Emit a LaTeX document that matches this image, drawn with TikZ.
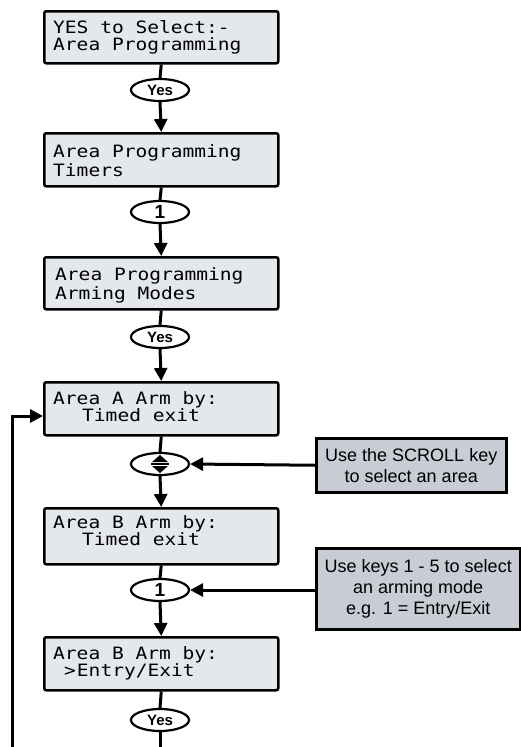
\documentclass[tikz,border=0pt]{standalone}
\usepackage{fontspec}
\setmainfont{Liberation Sans}
\newfontfamily\lcdfont[FakeStretch=1.15]{DejaVu Sans Mono}
\usetikzlibrary{arrows.meta,shapes.geometric}
\definecolor{lcdfill}{RGB}{228,231,236}
\definecolor{notefill}{RGB}{200,204,212}
\begin{document}
\begin{tikzpicture}[x=1pt,y=-1pt,
  lcd/.style={draw=black,line width=2.5pt,fill=lcdfill,rounded corners=2pt,minimum width=234pt,minimum height=53pt,inner sep=0pt,anchor=north west},
  lcdtext/.style={anchor=base west,inner sep=0pt,font=\lcdfont\fontsize{17}{17}\selectfont},
  keynode/.style={draw=black,ellipse,line width=2.2pt,fill=white,minimum width=58pt,minimum height=22pt,inner sep=0pt,font=\bfseries\fontsize{15}{15}\selectfont},
  note/.style={draw=black,line width=2.5pt,fill=notefill,align=center,inner sep=0pt,anchor=north west,font=\fontsize{18}{21}\selectfont},
  conn/.style={line width=3pt},
  arr/.style={conn,-{Triangle[length=13pt,width=13pt]}}]
\useasboundingbox (0,0) rectangle (521,747);

% LCD boxes
\node[lcd,minimum height=52pt] (b1) at (43,10) {};
\node[lcd] (b2) at (43,132) {};
\node[lcd,minimum height=52pt] (b3) at (43,256) {};
\node[lcd] (b4) at (43,381) {};
\node[lcd,minimum height=56pt] (b5) at (43,507) {};
\node[lcd] (b6) at (43,636) {};

% LCD texts
\node[lcdtext] (t1a) at (53,33) {YES to Select:-};
\node[lcdtext] (t1b) at (53,50) {Area Programming};
\node[lcdtext] (t2a) at (53,157) {Area Programming};
\node[lcdtext] (t2b) at (53,176) {Timers};
\node[lcdtext] (t3a) at (55,280) {Area Programming};
\node[lcdtext] (t3b) at (55,299) {Arming Modes};
\node[lcdtext] (t4a) at (53,404) {Area A Arm by:};
\node[lcdtext] (t4b) at (82,421) {Timed exit};
\node[lcdtext] (t5a) at (53,528) {Area B Arm by:};
\node[lcdtext] (t5b) at (82,545) {Timed exit};
\node[lcdtext] (t6a) at (53,659) {Area B Arm by:};
\node[lcdtext] (t6b) at (64,676) {>\kern1pt Entry/Exit};

% key ellipses
\node[keynode] (y1) at (160,90) {Yes};
\node[keynode,font=\bfseries\fontsize{19}{19}\selectfont] (k2) at (160,212) {1};
\node[keynode] (y3) at (160,337) {Yes};
\node[keynode] (sc) at (160,464) {};
\node[keynode,font=\bfseries\fontsize{19}{19}\selectfont] (k5) at (160,590) {1};
\node[keynode] (y6) at (160,720) {Yes};

% scroll symbol
\begin{scope}[shift={(sc.center)}]
  \fill (-8,-2) -- (8,-2) -- (0,-9) -- cycle;
  \fill (-8,2) -- (8,2) -- (0,9) -- cycle;
  \draw[line width=1.2pt] (-9,0) -- (9,0);
\end{scope}

% notes
\node[note,minimum width=190pt,minimum height=54pt] (n1) at (315,437) {Use the SCROLL key\\to select an area};
\node[note,minimum width=204pt,minimum height=81pt] (n2) at (315,547) {Use keys 1 - 5 to select\\an arming mode\\e.g. 1 = Entry/Exit};

% main flow
\draw[conn] (b1.south) -- (y1.north);
\draw[arr] (y1.south) -- (b2.north);
\draw[conn] (b2.south) -- (k2.north);
\draw[arr] (k2.south) -- (b3.north);
\draw[conn] (b3.south) -- (y3.north);
\draw[arr] (y3.south) -- (b4.north);
\draw[conn] (b4.south) -- (sc.north);
\draw[arr] (sc.south) -- (b5.north);
\draw[conn] (b5.south) -- (k5.north);
\draw[arr] (k5.south) -- (b6.north);
\draw[conn] (b6.south) -- (y6.north);
\coordinate (bot) at (160,747);
\draw[conn] (y6.south) -- (bot);

% note arrows
\draw[arr] (n1.west) -- (sc.east);
\draw[arr] (n2.west |- k5) -- (k5.east);

% feedback loop
\coordinate (fb0) at (12,747);
\coordinate (fb1) at (12,416);
\draw[arr] (fb0) -- (fb1) -- (b4.west |- fb1);
\end{tikzpicture}
\end{document}
